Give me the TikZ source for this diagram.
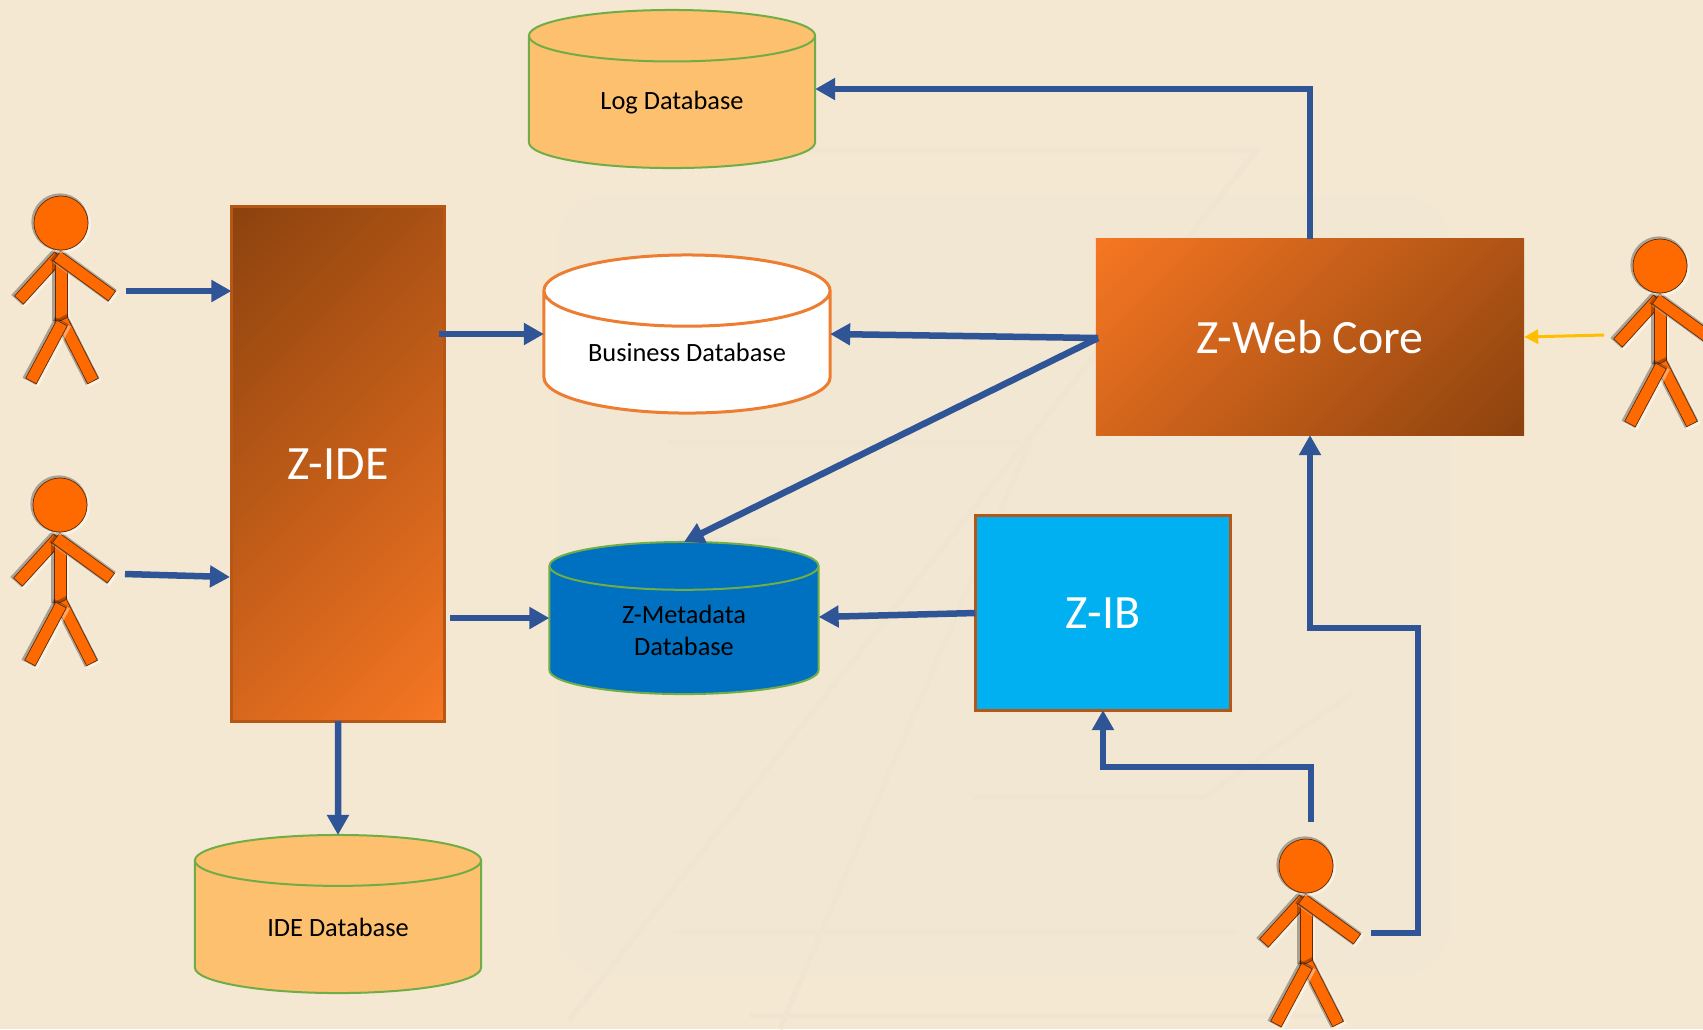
\documentclass[tikz,border=0pt]{standalone}
\usepackage{fontspec}
\setmainfont{Carlito}
\usetikzlibrary{shapes.geometric,arrows.meta,calc}

\definecolor{pagebg}{HTML}{F4E8D3}
\definecolor{markbg}{HTML}{F2E7D2}
\definecolor{markline}{HTML}{F0E5D0}
\definecolor{flowblue}{HTML}{2F5597}
\definecolor{zbrown}{HTML}{8B420E}
\definecolor{zorange}{HTML}{F77723}
\definecolor{dbgold}{HTML}{FDC06E}
\definecolor{dbgreen}{HTML}{70AD47}
\definecolor{bizline}{HTML}{ED7D31}
\definecolor{metablue}{HTML}{0070C0}
\definecolor{ibblue}{HTML}{00B0F0}
\definecolor{personfill}{HTML}{FF6A00}

\pgfdeclarehorizontalshading{zglow}{100bp}{color(0bp)=(zorange); color(14bp)=(zorange); color(86bp)=(zbrown); color(100bp)=(zbrown)}

\tikzset{
    dbase/.style={cylinder, shape border rotate=90, aspect=0.36, draw=dbgreen, line width=0.2mm,
        minimum width=2.86cm, minimum height=1.58cm, align=center, inner sep=0pt, outer sep=0pt,
        anchor=shape center, font=\fontsize{7.5}{9.2}\selectfont},
    zbox/.style={draw, rectangle, inner sep=0pt, outer sep=0pt, text=white, font=\fontsize{13.6}{16}\selectfont},
    flow/.style={-{Triangle[length=0.2cm,width=0.21cm]}, flowblue, line width=0.065cm},
    limb/.style={draw=black!60!personfill, fill=personfill, line width=0.2pt,
        preaction={draw=white, opacity=0.4, line width=0.9pt, transform canvas={shift={(0.4pt,-0.4pt)}}},
        preaction={draw=black, opacity=0.3, line width=0.9pt, transform canvas={shift={(-0.3pt,0.3pt)}}}},
    person/.pic={
        % order matters: the right arm and the left leg lie on top
        \foreach \xa/\ya/\xb/\yb in {-2/33/-42/77, 0/40/0/97, -4/33/51/73, 1/97/32/158, 1/100/-30/158}
            \draw[limb] ($(\xa,\ya)!0.06cm!90:(\xb,\yb)$) -- ($(\xb,\yb)!0.06cm!-90:(\xa,\ya)$)
                -- ($(\xb,\yb)!0.06cm!90:(\xa,\ya)$) -- ($(\xa,\ya)!0.06cm!-90:(\xb,\yb)$) -- cycle;
        \node[circle, limb, minimum size=0.54cm, inner sep=0pt] (-head) at (0,0) {};
    }
}

\begin{document}
\begin{tikzpicture}[x=0.01cm, y=-0.01cm]
    \useasboundingbox (0,0) rectangle (1703,1029);
    \clip (0,0) rectangle (1703,1029);
    \fill[pagebg] (0,0) rectangle (1703,1029);

    % faint logo behind everything
    \fill[markbg, rounded corners=0.5cm] (557,195) rectangle (1450,975);
    \draw[markline, line width=0.05cm, line join=round] (680,150) -- (1257,150) -- (569,1020);
    \draw[markline, line width=0.05cm, line join=round] (667,442) -- (1030,442) -- (780,1029);
    \draw[markline, line width=0.05cm] (658,540) -- (780,540);
    \draw[markline, line width=0.05cm, line join=round] (973,797) -- (1205,797) -- (1352,693);
    \draw[markline, line width=0.05cm] (673,932) -- (1236,932);
    \draw[markline, line width=0.05cm] (750,1015) -- (1340,1015);

    \node[zbox, draw=zbrown!60!zorange, line width=0.03cm, minimum width=2.13cm, minimum height=5.14cm, shading=zglow, shading angle=135] (ide) at (338,464) {Z-IDE};
    \node[zbox, draw=none, minimum width=4.28cm, minimum height=1.96cm, shading=zglow, shading angle=-45] (web) at (1310,337) {Z-Web Core};
    \node[zbox, draw=zbrown!60!zorange, line width=0.03cm, fill=ibblue, minimum width=2.55cm, minimum height=1.94cm] (ib) at (1103,613) {Z-IB};

    \node[dbase, fill=dbgold] (logdb) at (672,89) {Log Database};
    \node[dbase, fill=white, draw=bizline, line width=0.03cm] (bizdb) at (687,334) {Business Database};
    \node[dbase, fill=metablue, minimum width=2.69cm, minimum height=1.52cm, aspect=0.386] (metadb) at (684,618) {Z-Metadata\\Database};
    \node[dbase, fill=dbgold] (idedb) at (338,914) {IDE Database};

    \pic (devone) at (61,223) {person};
    \pic (devtwo) at (60,505) {person};
    \pic (webuser) at (1660,266) {person};
    \pic (ibuser) at (1306,866) {person};

    % free ends next to the persons and inside Z-IDE
    \coordinate (oneout) at (126,291);
    \coordinate (twoout) at (125,574);
    \coordinate (webuserout) at (1604,335);
    \coordinate (ibout) at (1311,822);
    \coordinate (ibside) at (1371,933);
    \coordinate (ideout) at (439,334);
    \coordinate (ideoutb) at (450,618);
    \coordinate (webleft) at (1098,338);

    \draw[flow] (oneout) -- (ide.west |- oneout);
    \draw[flow] (twoout) -- (230,577);
    \draw[flow] (ideout) -- (bizdb.west |- ideout);
    \draw[flow] (ideoutb) -- (metadb.west |- ideoutb);
    \draw[flow] (ide.south) -- (idedb.north);
    \draw[flow] (web.north) |- (logdb.east |- 0,89);
    \draw[flow] (webleft) -- (bizdb.east |- ideout);
    \draw[flow] (webleft) -- (metadb.north);
    \draw[flow] (ib.west) -- (metadb.east |- 0,617);
    \draw[flow] (ibout) -- (1311,767) -| (ib.south);
    \draw[flow] (ibside) -- (1418,933) -- (1418,628) -- (1310,628) -- (web.south);
    \draw[-{Triangle[length=0.14cm,width=0.14cm]}, draw=orange!50!yellow, fill=orange!50!yellow, line width=0.03cm] (webuserout) -- (web.east |- 0,337);
\end{tikzpicture}
\end{document}
